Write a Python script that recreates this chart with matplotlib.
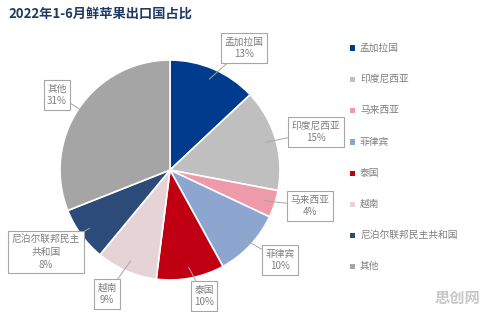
import numpy as np
import matplotlib
matplotlib.use("Agg")
import matplotlib.pyplot as plt

plt.rcParams['font.family'] = ['Noto Sans CJK SC', 'DejaVu Sans']

countries = ["孟加拉国", "印度尼西亚", "马来西亚", "菲律宾", "泰国", "越南", "尼泊尔联邦民主共和国", "其他"]
shares = [13, 15, 4, 10, 10, 9, 8, 31]
box_labels = ["孟加拉国", "印度尼西亚", "马来西亚", "菲律宾", "泰国", "越南", "尼泊尔联邦民主\n共和国", "其他"]
colors = ["#003B8E", "#BFBFBF", "#EE9AAA", "#8DA6CF", "#C00012", "#E6D3D6", "#2C4B78", "#A5A5A5"]
# label box centers in figure pixels (from top-left)
box_pos = [(244, 48), (316, 132), (310, 206), (280, 260), (204, 296), (107, 294), (46, 252), (57, 95)]

W, H = 488, 312
fig = plt.figure(figsize=(W / 100, H / 100), dpi=100)
ax = fig.add_axes([60 / W, (H - 280) / H, 220 / W, 220 / H])

wedges, _ = ax.pie(shares, colors=colors, startangle=90, counterclock=False,
                   wedgeprops=dict(edgecolor="white", linewidth=1.2))
ax.set_xlim(-1, 1)
ax.set_ylim(-1, 1)
ax.set_aspect("equal")

gray = "#7F7F7F"
for w, lab, v, (px, py) in zip(wedges, box_labels, shares, box_pos):
    ang = np.deg2rad((w.theta1 + w.theta2) / 2)
    xy = (0.9 * np.cos(ang), 0.9 * np.sin(ang))
    ax.annotate(f"{lab}\n{v}%", xy=xy, xycoords="data",
                xytext=(px, H - py), textcoords="figure pixels",
                ha="center", va="center", fontsize=7, color=gray,
                linespacing=1.35,
                bbox=dict(boxstyle="square,pad=0.35", fc="white", ec="#A6A6A6", lw=0.8),
                arrowprops=dict(arrowstyle="-", color="#A6A6A6", lw=0.7,
                                shrinkA=0, shrinkB=0))

fig.text(8 / W, 1 - 14 / H, "2022年1-6月鲜苹果出口国占比", fontsize=9.5,
         fontweight="bold", color="#1F3864", va="center", ha="left")

legend_y = [48, 79, 110, 142, 173, 204, 235, 266]
for c, name, ly in zip(colors, countries, legend_y):
    fig.patches.append(plt.Rectangle(((352 - 2.5) / W, 1 - (ly + 2.5) / H), 5 / W, 5 / H,
                                     transform=fig.transFigure, fc=c, ec="none"))
    fig.text(360 / W, 1 - ly / H, name, fontsize=7, color=gray, va="center", ha="left")

fig.text(480 / W, 1 - 298 / H, "思创网", fontsize=11, fontweight="bold",
         color="#C8C8C8", ha="right", va="center")

fig.savefig("out.png", dpi=100)
